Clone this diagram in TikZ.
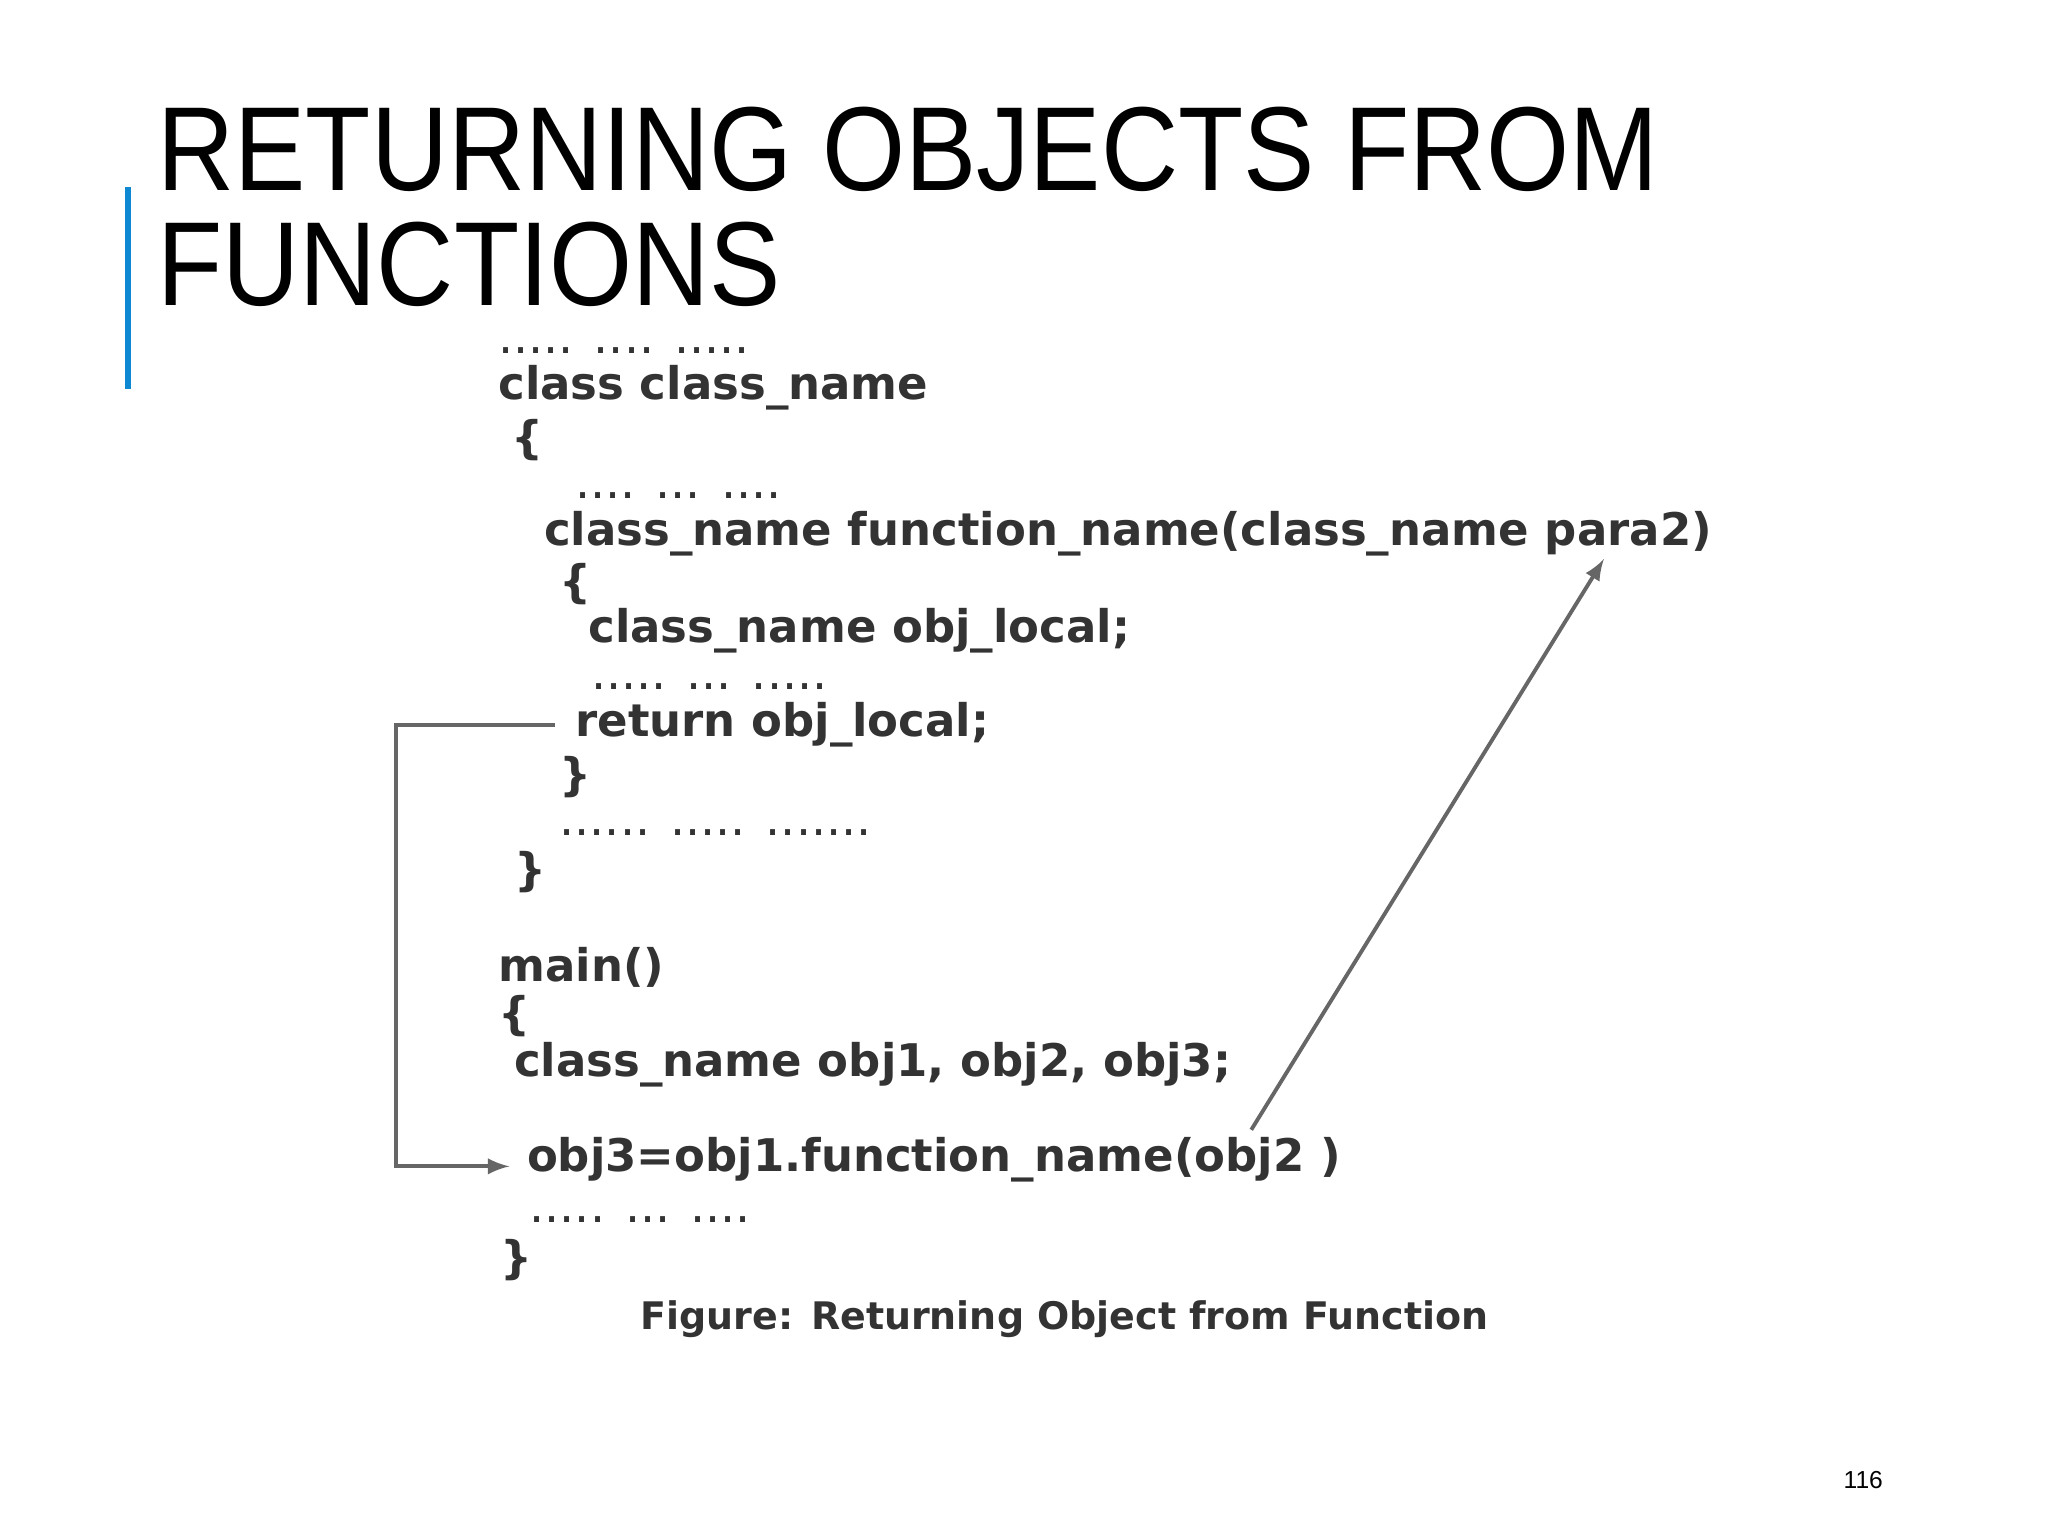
\documentclass[tikz,border=0pt]{standalone}
\usepackage{fontspec}
\setmainfont{Liberation Sans}
\newfontfamily\codefont{DejaVu Sans}
\begin{document}
\begin{tikzpicture}[x=0.013061cm,y=-0.013061cm,
  code/.style={anchor=west,inner sep=0pt,font=\codefont\bfseries\fontsize{12.8}{14}\selectfont,text=black!80},
  dots/.style={anchor=base west,inner sep=0pt,font=\codefont\fontsize{13.5}{14}\selectfont,text=black!80},
  ttl/.style={anchor=base west,inner sep=0pt,font=\fontsize{34}{34}\selectfont},
  conn/.style={draw=black!60,line width=1.1pt}]
\useasboundingbox[fill=white] (0,0) rectangle (1568,1176);
\draw[draw=cyan!70!blue,line width=1.5pt] (98,143) -- (98,298);
\node[ttl] (title1) at (120,146) {\scalebox{0.894}[1]{RETURNING OBJECTS FROM}};
\node[ttl] (title2) at (120,234) {\scalebox{0.894}[1]{FUNCTIONS}};
\node[dots] (l1) at (381,271) {..... .... .....};
\node[code] (l2) at (381,297) {class class\_name};
\node[code] (l3) at (391,337) {\{};
\node[dots] (l4) at (440,382) {.... ... ....};
\node[code] (l5) at (416,409) {class\_name function\_name(class\_name para2)};
\node[code] (l6) at (428,447) {\{};
\node[code] (l7) at (450,483) {class\_name obj\_local;};
\node[dots] (l8) at (452,528) {..... ... .....};
\node[code] (l9) at (440,555) {return obj\_local;};
\node[code] (l10) at (428,595) {\}};
\node[dots] (l11) at (428,640) {...... ..... .......};
\node[code] (l12) at (393,668) {\}};
\node[code] (l13) at (381,741) {main()};
\node[code] (l14) at (381,778) {\{};
\node[code] (l15) at (393,815) {class\_name obj1, obj2, obj3;};
\node[code] (l16) at (403,888) {obj3=obj1.function\_name(obj2 )};
\node[dots] (l17) at (405,936) {..... ... ....};
\node[code] (l18) at (383,965) {\}};
\node[code,font=\codefont\bfseries\fontsize{10.8}{12}\selectfont] (cap) at (490,1010) {Figure: Returning Object from Function};
\node[anchor=west,inner sep=0pt,font=\fontsize{7}{8}\selectfont] (pg) at (1411,1133) {116};
\coordinate (a) at (425,555);
\coordinate (b) at (958,865);
\coordinate (c) at (1228,428);
\draw[conn,-latex] (a) -- (303,555) -- (303,893) -- (390,893);
\draw[conn,-latex] (b) -- (c);
\end{tikzpicture}
\end{document}
